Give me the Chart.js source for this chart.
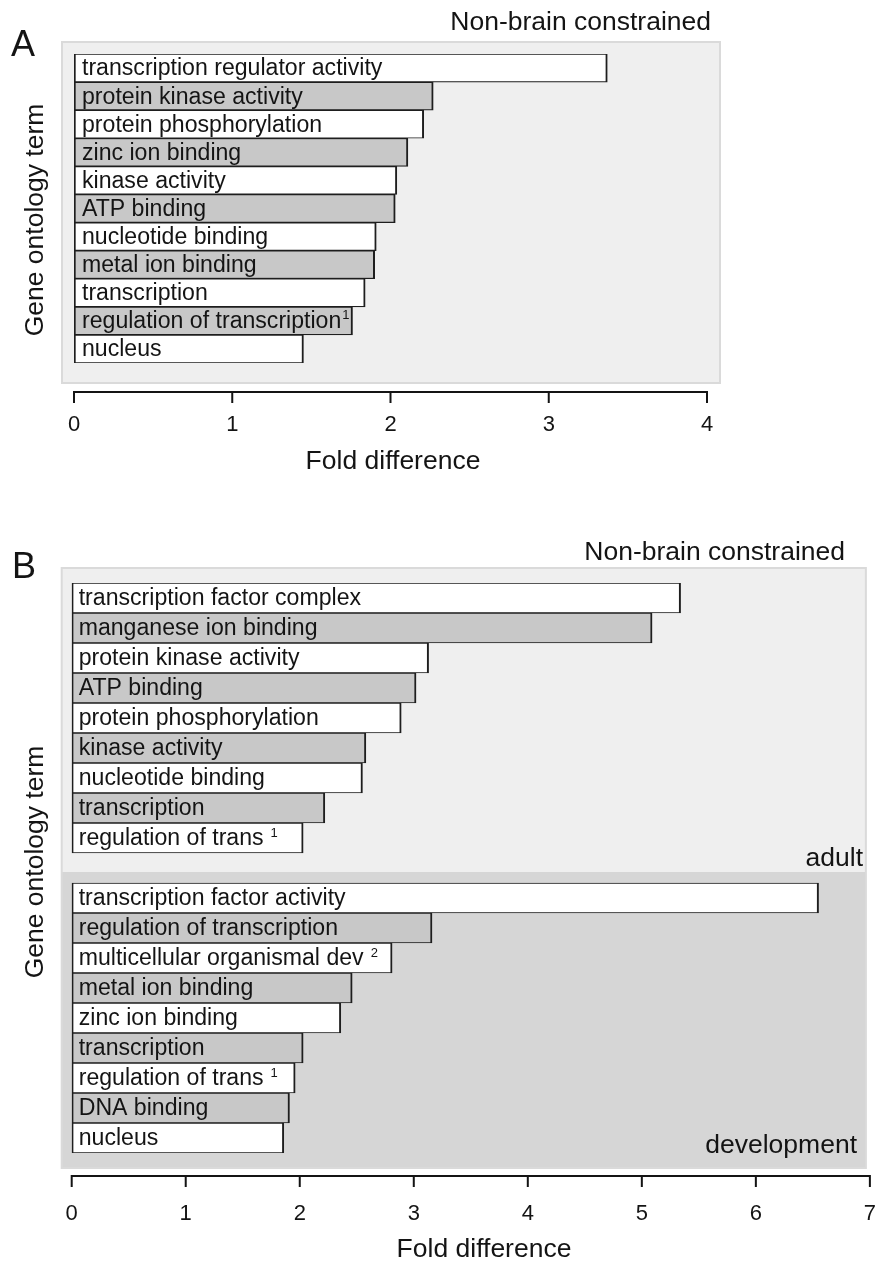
<!DOCTYPE html>
<html>
<head>
<meta charset="utf-8">
<title>Gene ontology fold difference</title>
<script src="https://cdn.jsdelivr.net/npm/chart.js@4.4.1/dist/chart.umd.min.js"></script>
<style>
  body { margin: 0; background: #fff; width: 876px; height: 1263px; overflow: hidden; position: relative; }
  #chartA { position: absolute; left: 0; top: 0; }
  #chartB { position: absolute; left: 0; top: 530px; }
</style>
</head>
<body>
<canvas id="chartA" width="876" height="500"></canvas>
<canvas id="chartB" width="876" height="745"></canvas>
<script>
// panel A
var termsA = ['transcription regulator activity', 'protein kinase activity', 'protein phosphorylation',
  'zinc ion binding', 'kinase activity', 'ATP binding', 'nucleotide binding', 'metal ion binding',
  'transcription', 'regulation of transcription', 'nucleus'];
var foldA = [3.37, 2.27, 2.21, 2.11, 2.04, 2.03, 1.91, 1.90, 1.84, 1.76, 1.45];
var notesA = ['', '', '', '', '', '', '', '', '', '1', ''];
var ticksA = [0, 1, 2, 3, 4];

// panel B, adult then development
var termsAdult = ['transcription factor complex', 'manganese ion binding', 'protein kinase activity',
  'ATP binding', 'protein phosphorylation', 'kinase activity', 'nucleotide binding', 'transcription',
  'regulation of trans'];
var foldAdult = [5.34, 5.09, 3.13, 3.02, 2.89, 2.58, 2.55, 2.22, 2.03];
var notesAdult = ['', '', '', '', '', '', '', '', '1'];

var termsDev = ['transcription factor activity', 'regulation of transcription', 'multicellular organismal dev',
  'metal ion binding', 'zinc ion binding', 'transcription', 'regulation of trans', 'DNA binding', 'nucleus'];
var foldDev = [6.55, 3.16, 2.81, 2.46, 2.36, 2.03, 1.96, 1.91, 1.86];
var notesDev = ['', '', '2', '', '', '', '1', '', ''];
var ticksB = [0, 1, 2, 3, 4, 5, 6, 7];

var FONT = '"Liberation Sans", Arial, Helvetica, sans-serif';
var INK = '#141414';

function shades(labels) {
  return labels.map(function(l, i) { return i % 2 ? '#c8c8c8' : '#ffffff'; });
}

function put(ctx, str, x, y, size, align, rot) {
  ctx.save();
  ctx.translate(x, y);
  if (rot) ctx.rotate(rot);
  ctx.font = size + 'px ' + FONT;
  ctx.fillStyle = INK;
  ctx.textAlign = align || 'left';
  ctx.textBaseline = 'middle';
  ctx.fillText(str, 0, 0);
  ctx.restore();
}

// grey panel behind the bars (optionally split in two shades)
const panel = {
  id: 'panel',
  beforeDraw(chart, args, o) {
    const a = chart.chartArea, ctx = chart.ctx;
    const l = a.left - o.pad[0], t = a.top - o.pad[1], r = a.right + o.pad[2], b = a.bottom + o.pad[3];
    ctx.save();
    ctx.fillStyle = '#efefef';
    ctx.fillRect(l, t, r - l, b - t);
    if (o.split != null) {
      const ys = chart.scales.y.getPixelForValue(o.split) + 4;
      ctx.fillStyle = '#d6d6d6';
      ctx.fillRect(l, ys, r - l, b - ys);
    }
    ctx.strokeStyle = '#dadada';
    ctx.lineWidth = 2;
    ctx.strokeRect(l, t, r - l, b - t);
    ctx.restore();
  }
};

// term names written inside the bars
const barText = {
  id: 'barText',
  afterDatasetsDraw(chart, args, o) {
    const ctx = chart.ctx;
    chart.getDatasetMeta(0).data.forEach(function(bar, i) {
      const name = chart.data.labels[i];
      if (!name) return;
      const x = bar.base + o.inset;
      ctx.save();
      ctx.font = '23.1px ' + FONT;
      ctx.fillStyle = INK;
      ctx.textBaseline = 'middle';
      ctx.fillText(name, x, bar.y + 1);
      const note = o.notes[i];
      if (note) {
        const w = ctx.measureText(name).width;
        ctx.font = '13px ' + FONT;
        ctx.fillText(note, x + w + o.noteGap, bar.y - 5);
      }
      ctx.restore();
    });
  }
};

// x axis line sits below the panel, ticks pointing down
const axisLine = {
  id: 'axisLine',
  afterDraw(chart, args, o) {
    const sx = chart.scales.x, ctx = chart.ctx;
    const y = chart.chartArea.bottom + o.gap;
    ctx.save();
    ctx.strokeStyle = INK;
    ctx.lineWidth = 2;
    ctx.beginPath();
    ctx.moveTo(sx.getPixelForValue(sx.min) - 1, y);
    ctx.lineTo(sx.getPixelForValue(sx.max) + 1, y);
    sx.ticks.forEach(function(t) {
      const px = sx.getPixelForValue(t.value);
      ctx.moveTo(px, y);
      ctx.lineTo(px, y + 11);
    });
    ctx.stroke();
    ctx.restore();
  }
};

const notes = {
  id: 'notes',
  afterDraw(chart, args, o) {
    o.items.forEach(function(t) { put(chart.ctx, t[0], t[1], t[2], t[3], t[4], t[5]); });
  }
};

function makeChart(id, cfg) {
  return new Chart(document.getElementById(id), {
    type: 'bar',
    data: {
      labels: cfg.labels,
      datasets: [{
        data: cfg.values,
        backgroundColor: shades(cfg.labels),
        borderColor: '#1e1e1e',
        borderWidth: { top: 1.2, bottom: 1.2, left: 2, right: 2 },
        borderSkipped: false,
        barPercentage: 1,
        categoryPercentage: 1
      }]
    },
    options: {
      indexAxis: 'y',
      responsive: false,
      animation: false,
      layout: { padding: cfg.padding },
      plugins: {
        legend: { display: false },
        tooltip: { enabled: false },
        panel: cfg.panel,
        barText: cfg.barText,
        axisLine: { gap: cfg.axisGap },
        notes: { items: cfg.texts }
      },
      scales: {
        y: { display: false },
        x: {
          min: cfg.ticks[0],
          max: cfg.ticks[cfg.ticks.length - 1],
          afterBuildTicks: function(s) { s.ticks = cfg.ticks.map(function(v) { return { value: v }; }); },
          afterFit: function(s) { s.height = 100; },
          // the tick marks themselves are drawn by axisLine; tickLength only pushes the labels down
          grid: { display: false, drawTicks: true, tickLength: cfg.labelDrop },
          border: { display: false },
          ticks: { padding: 0, color: INK, font: { family: FONT, size: 22 } }
        }
      }
    },
    plugins: [panel, barText, axisLine, notes]
  });
}

makeChart('chartA', {
  labels: termsA,
  values: foldA,
  ticks: ticksA,
  padding: { left: 74, top: 54, right: 169, bottom: 37 },
  labelDrop: 48.8,
  axisGap: 29,
  panel: { pad: [12, 12, 13, 20], split: null },
  barText: { inset: 8, notes: notesA, noteGap: 1 },
  texts: [
    ['A', 11, 46, 36, 'left'],
    ['Non-brain constrained', 711, 23, 26.5, 'right'],
    ['Gene ontology term', 36, 220, 26.5, 'center', -Math.PI / 2],
    ['Fold difference', 393, 462, 26.5, 'center']
  ]
});

makeChart('chartB', {
  labels: termsAdult.concat([''], termsDev),
  values: foldAdult.concat([null], foldDev),
  ticks: ticksB,
  padding: { left: 71.7, top: 53, right: 5, bottom: 22 },
  labelDrop: 47.8,
  axisGap: 23,
  panel: { pad: [10, 15, -4, 15], split: termsAdult.length },
  barText: { inset: 7, notes: notesAdult.concat([''], notesDev), noteGap: 7 },
  texts: [
    ['B', 12, 38, 36, 'left'],
    ['Non-brain constrained', 845, 23, 26.5, 'right'],
    ['adult', 863, 329, 26.5, 'right'],
    ['development', 857, 616, 26.5, 'right'],
    ['Gene ontology term', 36, 332, 26.5, 'center', -Math.PI / 2],
    ['Fold difference', 484, 720, 26.5, 'center']
  ]
});
</script>
</body>
</html>
